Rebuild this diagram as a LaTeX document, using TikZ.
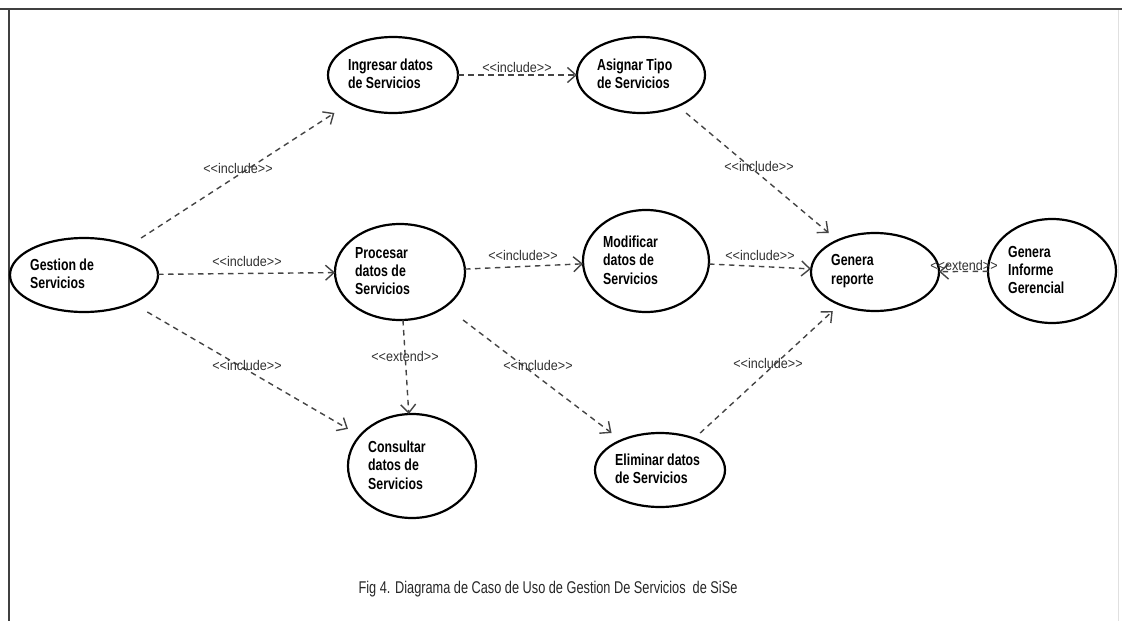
\documentclass[tikz,border=0pt]{standalone}
\usepackage{fontspec}
\setmainfont{Liberation Sans}
\newfontfamily\ucfont{Liberation Sans}[FakeStretch=0.77]
\newfontfamily\lblfont{Liberation Sans}[FakeStretch=0.9]
\newfontfamily\capfont{Liberation Sans}[FakeStretch=0.75]
\usetikzlibrary{arrows.meta}

\definecolor{relgray}{HTML}{444444}
\definecolor{lblgray}{HTML}{303030}

% use case: invisible box (connectors attach to it), inscribed ellipse, left-aligned text
% #1 name, #2 centre, #3 x radius, #4 y radius, #5 text
\newcommand\usecase[5]{%
  \node[ucbox, minimum width={2*#3pt}, minimum height={2*#4pt}] (#1) at (#2) {};
  \draw[ucline] (#1.center) ellipse [x radius=#3pt, y radius=#4pt];
  \node[uctext] (#1-text) at ([xshift=20pt, yshift=1pt]#1.west) {#5};
}

\tikzset{
  ucbox/.style={rectangle, draw=none, inner sep=0pt, outer sep=0pt},
  ucline/.style={line width=2.2pt, black},
  uctext/.style={anchor=west, align=left, inner sep=0pt,
    font=\ucfont\bfseries\fontsize{16}{18.3}\selectfont},
  rel/.style={draw=relgray, line width=1.4pt, dash pattern=on 5.5pt off 4.5pt,
    -{Straight Barb[length=8.5pt, width=15pt]}},
  lbl/.style={inner sep=0pt, text=lblgray,
    font=\lblfont\fontsize{14}{16}\selectfont},
  capt/.style={inner sep=0pt, text=black!85,
    font=\capfont\fontsize{17}{20}\selectfont},
  frameline/.style={line width=1.8pt, draw=black!75},
  faintline/.style={line width=1pt, draw=black!12},
}

\begin{document}
\begin{tikzpicture}[x=1pt, y=-1pt]
  \useasboundingbox (0,0) rectangle (1122,621);

  % frame
  \draw[frameline] (0,9) -- (1122,9);
  \draw[frameline] (9,9) -- (9,621);
  \draw[faintline] (1118,10) -- (1118,621);

  % use cases
  \usecase{ges}{84,275}{74}{37}{Gestion de\\Servicios}
  \usecase{ing}{393,75}{65}{38}{Ingresar datos\\de Servicios}
  \usecase{asi}{641,75}{64}{38}{Asignar Tipo\\de Servicios}
  \usecase{pro}{400,272}{65}{48}{Procesar\\datos de\\Servicios}
  \usecase{mod}{646,261}{63}{51}{Modificar\\datos de\\Servicios}
  \usecase{rep}{875,272}{64}{39}{Genera\\reporte}
  \usecase{inf}{1052,271}{64}{52}{Genera\\Informe\\Gerencial}
  \usecase{con}{412,466}{64}{52}{Consultar\\datos de\\Servicios}
  \usecase{eli}{660,470}{65}{37}{Eliminar datos\\de Servicios}

  % relationships
  \draw[rel] (ges) -- (ing);
  \draw[rel] (ges) -- (pro);
  \draw[rel] (ges) -- (con);
  \draw[rel] (ing) -- (asi);
  \draw[rel] (asi) -- (rep);
  \draw[rel] (pro) -- (mod);
  \draw[rel] (mod) -- (rep);
  \draw[rel] (pro) -- (con);
  \draw[rel] (pro) -- (eli);
  \draw[rel] (eli) -- (rep);
  \draw[rel] (inf) -- (rep);

  % stereotype labels
  \node[lbl] (l-ges-ing) at (238,168) {{<}{<}include{>}{>}};
  \node[lbl] (l-ges-pro) at (247,261) {{<}{<}include{>}{>}};
  \node[lbl] (l-ges-con) at (247,365) {{<}{<}include{>}{>}};
  \node[lbl] (l-ing-asi) at (517,67)  {{<}{<}include{>}{>}};
  \node[lbl] (l-asi-rep) at (759,166) {{<}{<}include{>}{>}};
  \node[lbl] (l-pro-mod) at (523,255) {{<}{<}include{>}{>}};
  \node[lbl] (l-mod-rep) at (760,255) {{<}{<}include{>}{>}};
  \node[lbl] (l-pro-con) at (405,356) {{<}{<}extend{>}{>}};
  \node[lbl] (l-pro-eli) at (538,365) {{<}{<}include{>}{>}};
  \node[lbl] (l-eli-rep) at (768,363) {{<}{<}include{>}{>}};
  \node[lbl] (l-inf-rep) at (964,265) {{<}{<}extend{>}{>}};

  % caption
  \node[capt] (caption) at (548,589)
    {Fig 4. Diagrama de Caso de Uso de Gestion De Servicios\ \ de SiSe};
\end{tikzpicture}
\end{document}
